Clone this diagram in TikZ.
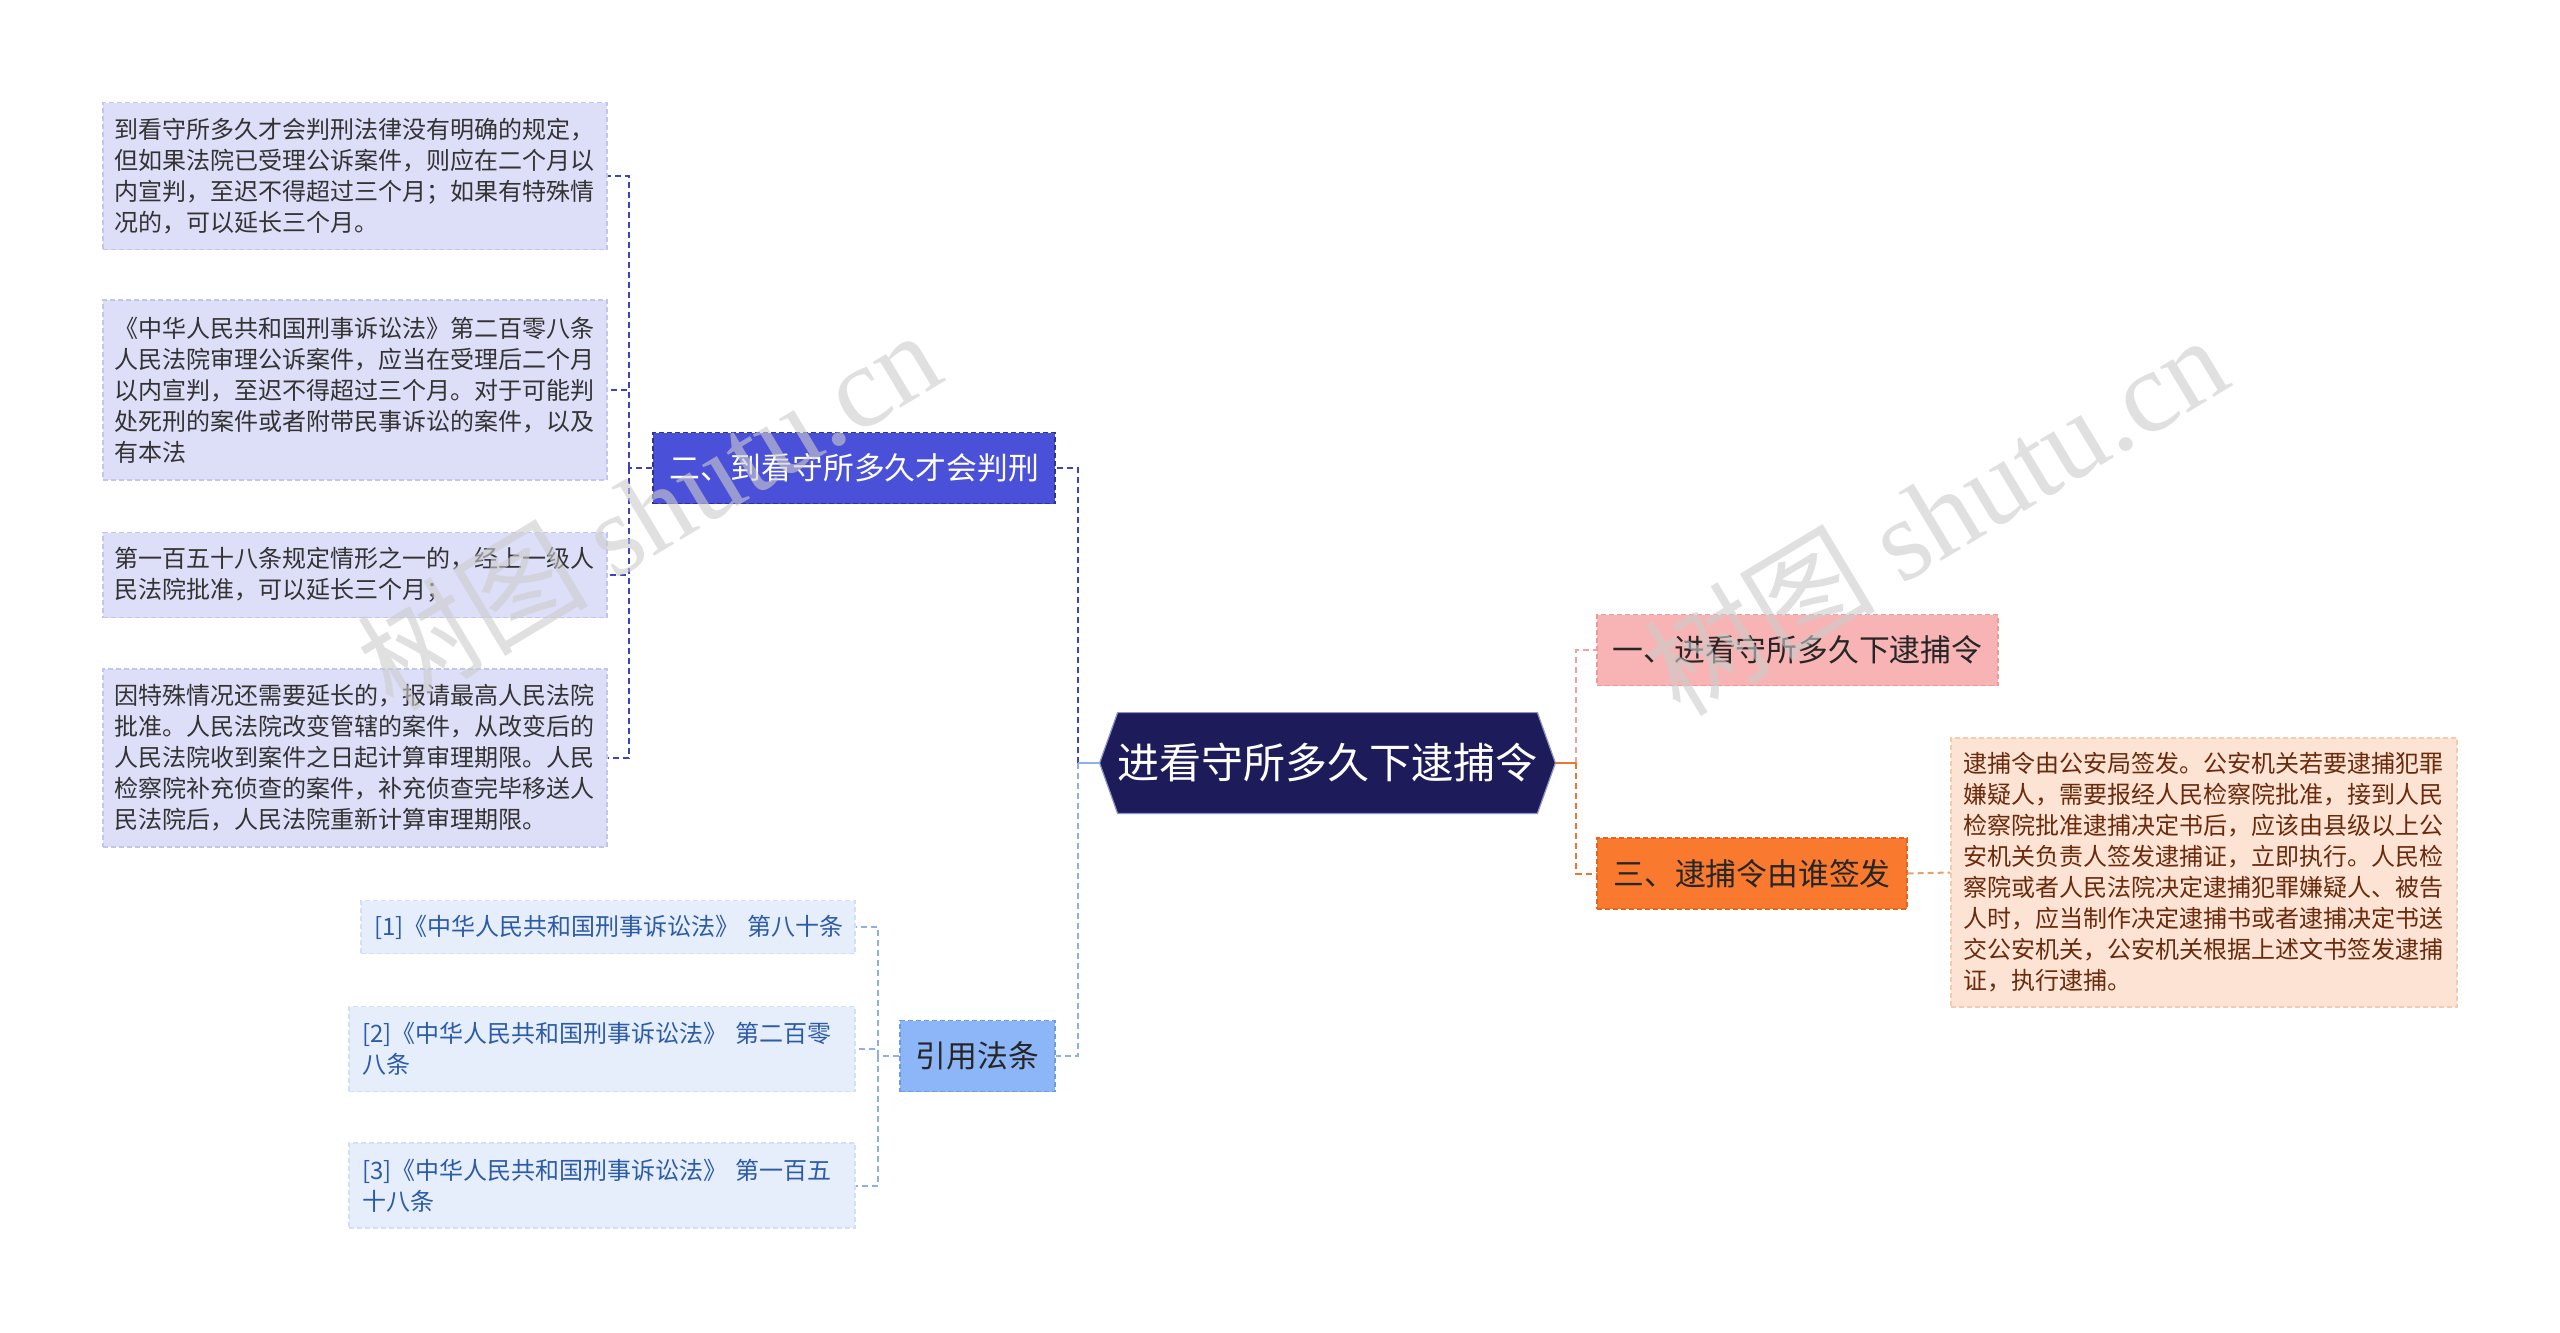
\documentclass[tikz,border=0pt]{standalone}
\usepackage{fontspec}
\setmainfont{Noto Sans CJK SC}
\newfontfamily\wmlatin{Liberation Serif}
\definecolor{cRoot}{HTML}{1E1B5B}
\definecolor{cRootD}{HTML}{8C93C8}
\definecolor{cB2}{HTML}{4A50D8}
\definecolor{cB2d}{HTML}{2E3399}
\definecolor{cLeafL}{HTML}{DDDEF8}
\definecolor{cLeafLd}{HTML}{C3C5EE}
\definecolor{cTxtL}{HTML}{333333}
\definecolor{cRef}{HTML}{8DB6F8}
\definecolor{cRefd}{HTML}{6E9BE6}
\definecolor{cRefLeaf}{HTML}{E6EEFC}
\definecolor{cRefLeafd}{HTML}{D3DFF5}
\definecolor{cRefTxt}{HTML}{2C5BA8}
\definecolor{cB1}{HTML}{F8B4B4}
\definecolor{cB1d}{HTML}{F29696}
\definecolor{cB3}{HTML}{F97A2F}
\definecolor{cB3d}{HTML}{E5651C}
\definecolor{cL31}{HTML}{FDE3D4}
\definecolor{cL31d}{HTML}{F5C9B2}
\definecolor{cL31Txt}{HTML}{6A2A0C}
\definecolor{lnB2}{HTML}{3C43C0}
\definecolor{lnRef}{HTML}{8FB0E4}
\definecolor{lnB1}{HTML}{F2A0A0}
\definecolor{lnB3}{HTML}{E8782F}
\definecolor{lnL31}{HTML}{E8A070}
\begin{document}
\begin{tikzpicture}[x=0.5pt,y=-0.5pt,
  box/.style={rectangle, inner ysep=0pt, dash pattern=on 2.5pt off 1.5pt, line width=0.6pt},
  leafL/.style={box, fill=cLeafL, draw=cLeafLd, text=cTxtL, font=\fontsize{12pt}{15.5pt}\selectfont, align=left, text width=241pt, inner xsep=5.5pt},
  leafR/.style={box, fill=cRefLeaf, draw=cRefLeafd, text=cRefTxt, font=\fontsize{12pt}{15.5pt}\selectfont, align=left, inner xsep=6.5pt},
  branch/.style={box, font=\fontsize{15.4pt}{18pt}\selectfont, minimum height=35.5pt, inner xsep=0pt},
  conn/.style={line width=1pt, dash pattern=on 3pt off 2pt},
  wm/.style={text=gray!40, opacity=0.6, rotate=31, font=\fontsize{58pt}{60pt}\selectfont}
]
\fill[white] (0,0) rectangle (2560,1333);
\useasboundingbox (0,0) rectangle (2560,1333);

% root
\node[minimum width=227.5pt, minimum height=50pt, inner sep=0pt] (root) at (1327.5,763) {};
\filldraw[fill=cRoot, draw=cRootD, line width=0.6pt] (root.west) -- ([xshift=9pt]root.north west) -- ([xshift=-9pt]root.north east) -- (root.east) -- ([xshift=-9pt]root.south east) -- ([xshift=9pt]root.south west) -- cycle;
\node[text=white, font=\fontsize{21pt}{24pt}\selectfont] (roottxt) at (root.center) {进看守所多久下逮捕令};

% branches
\node[branch, fill=cB2, draw=cB2d, text=white, minimum width=201pt] (b2) at (854,468) {二、到看守所多久才会判刑};
\node[branch, fill=cRef, draw=cRefd, text=black!85, minimum width=77.5pt] (ref) at (977.5,1056) {引用法条};
\node[branch, fill=cB1, draw=cB1d, text=black!85, minimum width=200.5pt] (b1) at (1797.5,650) {一、进看守所多久下逮捕令};
\node[branch, fill=cB3, draw=cB3d, text=black!85, minimum width=155pt] (b3) at (1752,873.5) {三、逮捕令由谁签发};

% left leaves
\node[leafL, minimum height=73.5pt] (l1) at (355,176) {到看守所多久才会判刑法律没有明确的规定，\\但如果法院已受理公诉案件，则应在二个月以\\内宣判，至迟不得超过三个月；如果有特殊情\\况的，可以延长三个月。};
\node[leafL, minimum height=90pt] (l2) at (355,390) {《中华人民共和国刑事诉讼法》第二百零八条\\人民法院审理公诉案件，应当在受理后二个月\\以内宣判，至迟不得超过三个月。对于可能判\\处死刑的案件或者附带民事诉讼的案件，以及\\有本法};
\node[leafL, minimum height=42.5pt] (l3) at (355,575) {第一百五十八条规定情形之一的，经上一级人\\民法院批准，可以延长三个月；};
\node[leafL, minimum height=89pt] (l4) at (355,758) {因特殊情况还需要延长的，报请最高人民法院\\批准。人民法院改变管辖的案件，从改变后的\\人民法院收到案件之日起计算审理期限。人民\\检察院补充侦查的案件，补充侦查完毕移送人\\民法院后，人民法院重新计算审理期限。};

% reference leaves
\node[leafR, text width=234pt, minimum height=26.5pt] (r1) at (608,927) {[1]《中华人民共和国刑事诉讼法》~第八十条};
\node[leafR, text width=240pt, minimum height=42.5pt] (r2) at (602,1049) {[2]《中华人民共和国刑事诉讼法》~第二百零\\八条};
\node[leafR, text width=240pt, minimum height=42.5pt] (r3) at (602,1185.5) {[3]《中华人民共和国刑事诉讼法》~第一百五\\十八条};

% right leaf
\node[box, fill=cL31, draw=cL31d, text=cL31Txt, font=\fontsize{12pt}{15.5pt}\selectfont, align=left, text width=241pt, inner xsep=6pt, minimum height=134.5pt] (l31) at (2204,872.5) {逮捕令由公安局签发。公安机关若要逮捕犯罪\\嫌疑人，需要报经人民检察院批准，接到人民\\检察院批准逮捕决定书后，应该由县级以上公\\安机关负责人签发逮捕证，立即执行。人民检\\察院或者人民法院决定逮捕犯罪嫌疑人、被告\\人时，应当制作决定逮捕书或者逮捕决定书送\\交公安机关，公安机关根据上述文书签发逮捕\\证，执行逮捕。};

% junctions
\coordinate (jL) at (1078,763);
\coordinate (jR) at (1576,763);
\coordinate (j2) at (629,468);
\coordinate (jr) at (878,1056);

% connectors
\draw[conn, lnB2] (jL) |- (b2.east);
\draw[conn, lnRef] (jL) |- (ref.east);
\draw[line width=1pt, lnRef] (root.west) -- (jL);
\draw[conn, lnB1] (jR) |- (b1.west);
\draw[conn, lnB3] (jR) |- (b3.west);
\draw[line width=1pt, lnB3] (root.east) -- (jR);

\draw[conn, lnB2] (b2.west) -- (j2);
\foreach \n in {l1,l2,l3,l4} \draw[conn, lnB2] (j2) |- (\n.east);
\draw[conn, lnRef] (ref.west) -- (jr);
\foreach \n in {r1,r2,r3} \draw[conn, lnRef] (jr) |- (\n.east);
\draw[conn, lnL31] (b3.east) -- (l31.west);

% watermarks
\node[wm] (wm1) at (648,509) {树图 {\wmlatin shutu.cn}};
\node[wm] (wm2) at (1935,514) {树图 {\wmlatin shutu.cn}};
\end{tikzpicture}
\end{document}
